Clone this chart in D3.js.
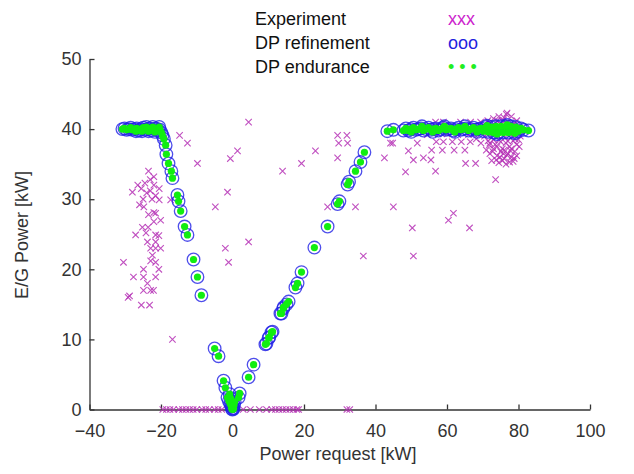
<!DOCTYPE html>
<html>
<head>
<meta charset="utf-8">
<script src="https://cdn.jsdelivr.net/npm/d3@7"></script>
<style>
  body { margin: 0; background: #fff; }
  svg text { font-family: "Liberation Sans", Arial, sans-serif; }
</style>
</head>
<body>
<script>
// tick values
var xTicks = [-40, -20, 0, 20, 40, 60, 80, 100];
var yTicks = [0, 10, 20, 30, 40, 50];

// legend entries
var legendNames = ["Experiment", "DP refinement", "DP endurance"];
var legendMarks = ["xxx", "ooo", "\u2022 \u2022 \u2022"];

// Experiment: [power request kW, E/G power kW]
var experiment = [
  // left cluster
  [-23.5,34],[-24.5,32.3],[-22,33.2],[-26.5,32],[-25.5,31.5],[-23,31.2],[-24,30.9],[-21.5,30.5],
  [-28,31],[-25,30],[-22.5,30],[-20.5,29.9],[-17.3,29.9],[-26,29.2],[-24.8,28.9],[-22,28.1],
  [-21.5,28],[-23.5,27.8],[-20.1,27],[-25.2,26],[-23.6,26],[-27.1,24.9],[-21.5,24.9],[-20.6,24.8],
  [-23.8,23.9],[-21.5,23.9],[-22.9,23],[-21.5,23],[-20.1,23],[-22.4,22],[-22.9,21.2],[-21.5,21],
  [-30.5,21],[-24.9,20],[-20.6,20],[-27.7,18.9],[-24.9,18.9],[-21.5,18.9],[-23.8,18],[-24.9,17],
  [-22.9,17],[-22.1,17],[-29.2,16],[-28.8,16.2],[-25.5,14.9],[-23.2,14.9],[-16.8,10],[-22,32],
  [-23,32.8],[-20.5,31.5],[-24.2,25.2],[-22,26.8],
  // scattered middle
  [-14.8,39.1],[-12.6,38],[-9.8,35.1],[4.5,41],[1.4,36.9],[-0.6,35.8],[14,34],[-1.4,31],
  [-4.8,28.9],[-2,23],[4.5,23.9],[-1.1,21],[19.3,35.1],[23.2,36.9],[29.4,39.1],[32,39.1],
  [29.7,38],[32.2,38],[29.4,35.9],[26.6,28.9],[34.4,28.9],[45,28.9],[42.5,35.9],[44.8,38],
  [48.4,33.9],[56.8,34],[50.3,25.9],[50.6,21.9],[36.6,21.9],[61.8,28],[60.4,27],[66.3,25.9],
  [73.6,32.8],[49.2,36.9],[50.6,35.6],[53.4,35.9],[55.5,35.6],[55.7,37],[58.7,37],[62,37],
  [65,37],[65.2,35.1],[68,35.1],[44.2,38],[51.7,38],[57,38.2],[59,38.2],[61.5,38.2],
  [64,38.2],[66.5,38.2],[56.8,41],[59,41],[63.8,41],[66.6,41],[69.4,41],[76.6,42.1],[75.8,41.3],
  // dense right block
  [70.5,39],[71.5,38.3],[72.5,38.8],[73.5,37.8],[74.5,38.5],[75.5,37.2],[76.5,38],[77.5,37.5],
  [78.5,38.3],[79.5,37.8],[71,37],[72,36.5],[73,37.2],[74,36.2],[75,36.8],[76,35.8],
  [77,36.5],[78,36],[79,36.8],[80,38.5],[72.5,35.5],[74.5,35.2],[76.5,35],[78.5,35.4],
  [70.2,40.6],[72,40.8],[74,41.2],[75,40.7],[77,41],[78.5,40.6],[79.5,41.2],[76,41.6],
  [73,41.5],[71.2,39.3],[77.8,39.2],[79.8,39.6],[75.2,39.3],[73.3,39.5],
  [72,38],[73,38.5],[74,37.5],[75,38.2],[76,37],[77,38.3],[78,37.2],[79,38.6],
  [80.2,37.5],[72.8,36.8],[74.8,36],[76.8,36.3],[78.8,35.8],[71.8,37.7],[75.8,36.5],[77.8,36.9],
  [73.8,35.6],[75.5,35.5],[77.5,35.3],[79.5,36.2],[74.2,39],[76.2,38.8],[78.2,39],[80.5,39],
  [71.4,41.2],[73.5,40.5],[75.5,41.1],[77.5,40.5],[78,41.8],[79,40.8],[74.5,41.8],[76.8,42.3],
  [68.2,38.6],[69.5,38],[67.5,39.3],[66,39.2],[63,39.2],[60,39.3],[57.5,39.3],[54.5,39.2],
  // along zero
  [-19.5,0],[-18.5,0],[-17.5,0],[-16.5,0],[-15,0],[-14,0],[-13,0],[-12,0],[-11,0],[-10,0],
  [-8.5,0],[-7.5,0],[-6.5,0],[-5,0],[-4,0],[-3,0],[3,0],[5,0],[7.5,0],[9.5,0],[11,0],
  [12,0],[13,0],[14,0],[15,0],[16,0],[17,0],[18,0],[18.5,0],[32,0],[32.8,0]
];

// DP refinement result: [power request kW, E/G power kW]
var dpRefinement = [
  // left plateau
  [-30.8,40],[-30.2,40.1],[-29.6,39.9],[-29,40],[-28.5,40.2],[-28,39.9],[-27.4,40],[-26.8,40.1],
  [-26.2,39.8],[-25.6,40],[-25,40.2],[-24.4,39.9],[-23.8,40],[-23.2,40.1],[-22.6,39.8],[-22,40],
  [-21.4,40.1],[-20.8,39.8],[-20.3,39.9],[-19.9,39.5],[-19.6,39.1],[-19.2,38.6],
  [-27,39.7],[-25.3,39.7],[-23.5,39.7],[-21.7,39.6],[-20.5,40.3],[-22.3,40.3],[-24.1,40.3],
  // falling branch
  [-18.7,37.7],[-18.5,36.4],[-17.9,35.1],[-17.1,34],[-16.8,33],[-15.4,30.6],[-15.1,29.7],
  [-14.5,28.3],[-13.4,26.1],[-12.6,24.9],[-10.9,21.4],[-9.8,18.9],[-8.7,16.3],
  [-5,8.7],[-3.9,7.6],[-2.5,4.1],[-2,3.1],[-1.4,1.7],
  // around zero
  [-1,1.2],[-0.6,0.8],[-0.3,0.4],[0,0],[0.2,0.2],[-0.2,0.1],[0.4,0.6],[0.1,1],[-0.5,1.6],
  [0.6,1.1],[-0.8,2.2],[0.3,0.1],[-0.1,0.5],
  // rising branch
  [1.7,1.7],[2,2.3],[4.5,4.6],[5.9,6.4],[9.2,9.3],[9.5,9.4],[10.1,10.2],[10.3,10.3],
  [10.9,11],[11.2,11.1],[13.4,13.7],[13.7,13.7],[14.2,14.4],[14.3,14.6],[15.1,15],[15.7,15.4],
  [17.6,17.4],[18.2,18],[19.3,19.6],[22.9,23.1],[26.6,26.1],[29.4,29.3],[29.9,29.7],[32.2,32.1],
  [32.6,32.5],[34.4,34],[35.8,35.3],[36.9,36.7],
  // right plateau
  [43.3,39.7],[45,39.9],[47.8,39.8],[48.5,40.1],[49.2,39.8],[49.9,40],[50.6,40.2],[51.3,39.9],
  [52,40],[52.7,40.1],[53.4,39.8],[54.1,40],[54.8,40.2],[55.5,39.9],[56.2,40],[56.9,40.1],
  [57.6,39.8],[58.3,40],[59,40.2],[59.7,39.9],[60.4,40],[61.1,40.1],[61.8,39.8],[62.5,40],
  [63.2,40.2],[63.9,39.9],[64.6,40],[65.3,40.1],[66,39.8],[66.7,40],[67.4,40.2],[68.1,39.9],
  [68.8,40],[69.5,40.1],[70.2,39.7],[70.9,40.3],[71.6,39.6],[72.3,40.3],[73,39.5],[73.7,40.4],
  [74.4,39.5],[75.1,40.4],[75.8,39.5],[76.5,40.4],[77.2,39.5],[77.9,40.4],[78.6,39.6],
  [79.3,40.3],[80,39.7],[80.7,40.1],[81.4,39.9],[82.8,39.8],
  [50,39.6],[53,40.4],[56,39.6],[59.3,40.4],[62.2,39.6],[65,40.4],[68.4,39.6],[71.2,40.5],
  [74,39.3],[76.8,40.6],[79,39.4]
];

// DP endurance result (markers sit on the same operating points)
var dpEndurance = dpRefinement.slice();

var margin = {top: 59, right: 44, bottom: 64.5, left: 89.5},
    width = 634 - margin.left - margin.right,
    height = 474 - margin.top - margin.bottom;

var x = d3.scaleLinear().domain([-40, 100]).range([0, width]);
var y = d3.scaleLinear().domain([0, 50]).range([height, 0]);

var svg = d3.select("body").append("svg")
    .attr("width", 634)
    .attr("height", 474);

var g = svg.append("g")
    .attr("transform", "translate(" + margin.left + "," + margin.top + ")");

// axes, ticks pointing inward
var xAxis = g.append("g")
    .attr("transform", "translate(0," + height + ")")
    .call(d3.axisBottom(x).tickValues(xTicks).tickSize(-5).tickSizeOuter(0).tickPadding(10));
var yAxis = g.append("g")
    .call(d3.axisLeft(y).tickValues(yTicks).tickSize(-5).tickSizeOuter(0).tickPadding(8));

[xAxis, yAxis].forEach(function(a) {
  a.selectAll("path, line").attr("stroke", "#333").attr("stroke-width", 1.3);
  a.selectAll("text").attr("fill", "#333").style("font-size", "18px");
});
xAxis.selectAll("text").attr("dy", "0.95em");

// experiment crosses
var cs = 3.2;
g.append("g").selectAll("path")
    .data(experiment)
  .enter().append("path")
    .attr("d", function(d) {
      var px = x(d[0]), py = y(d[1]);
      return "M" + (px - cs) + "," + (py - cs) + "L" + (px + cs) + "," + (py + cs) +
             "M" + (px - cs) + "," + (py + cs) + "L" + (px + cs) + "," + (py - cs);
    })
    .attr("stroke", "#b530b5")
    .attr("stroke-width", 1.1)
    .attr("fill", "none")
    .style("opacity", 0.85);

// DP refinement circles
g.append("g").selectAll("circle")
    .data(dpRefinement)
  .enter().append("circle")
    .attr("cx", function(d) { return x(d[0]); })
    .attr("cy", function(d) { return y(d[1]); })
    .attr("r", 6.3)
    .attr("fill", "none")
    .attr("stroke", "#2222e6")
    .attr("stroke-width", 1.3)
    .style("opacity", 0.8);

// DP endurance dots
g.append("g").selectAll("circle")
    .data(dpEndurance)
  .enter().append("circle")
    .attr("cx", function(d) { return x(d[0]); })
    .attr("cy", function(d) { return y(d[1]); })
    .attr("r", 3.6)
    .attr("fill", "#11ee11");

// axis titles
svg.append("text")
    .attr("x", 338)
    .attr("y", 460)
    .attr("text-anchor", "middle")
    .attr("fill", "#333")
    .style("font-size", "18px")
    .text("Power request [kW]");

svg.append("text")
    .attr("transform", "translate(28,235) rotate(-90)")
    .attr("text-anchor", "middle")
    .attr("fill", "#333")
    .style("font-size", "18px")
    .text("E/G Power [kW]");

// legend
var legendColors = ["#cc22cc", "#2222dd", "#22ee22"];
var legend = svg.append("g");
legend.selectAll("text.name")
    .data(legendNames)
  .enter().append("text")
    .attr("class", "name")
    .attr("x", 255)
    .attr("y", function(d, i) { return 25 + i * 24; })
    .attr("fill", "#111")
    .style("font-size", "18px")
    .text(function(d) { return d; });
legend.selectAll("text.mark")
    .data(legendMarks)
  .enter().append("text")
    .attr("class", "mark")
    .attr("x", 448)
    .attr("y", function(d, i) { return 25 + i * 24; })
    .attr("fill", function(d, i) { return legendColors[i]; })
    .style("font-size", "18px")
    .text(function(d) { return d; });
</script>
</body>
</html>
